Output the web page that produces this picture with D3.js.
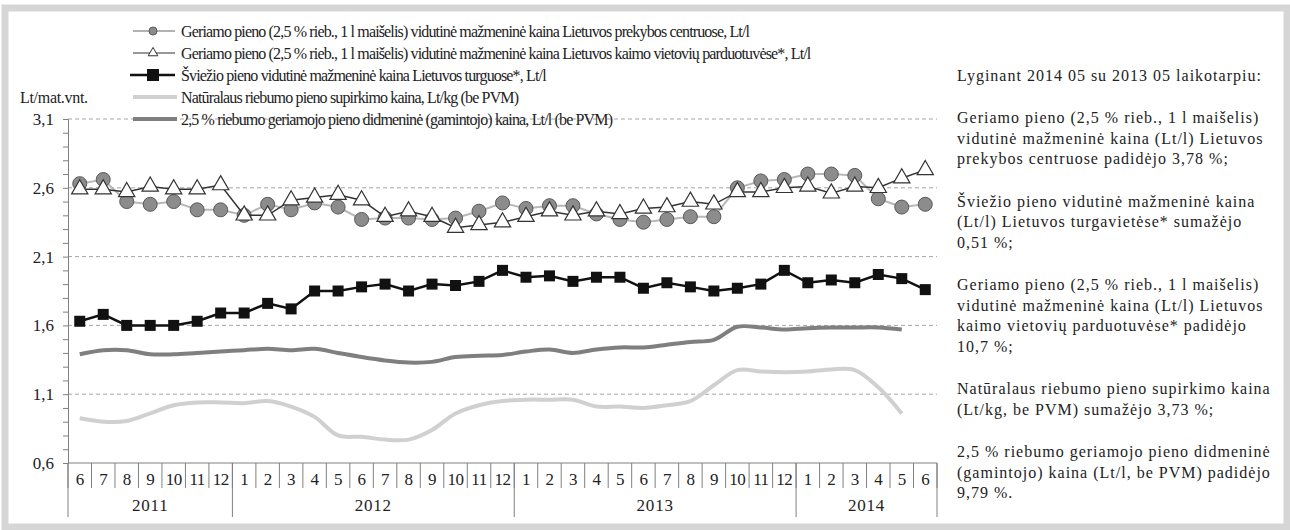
<!DOCTYPE html>
<html>
<head>
<meta charset="utf-8">
<script src="https://cdn.jsdelivr.net/npm/d3@7"></script>
<style>
  body { margin: 0; background: #fff; }
  svg { display: block; }
  text { font-family: "Liberation Serif", "Times New Roman", "DejaVu Serif", serif; }
</style>
</head>
<body>
<svg id="viz" width="1290" height="530"></svg>
<script>
const svg = d3.select("#viz");
const width = +svg.attr("width");
const height = +svg.attr("height");
const plot = { left: 68, right: 937, top: 119, bottom: 463 };

// months 2011-06 .. 2014-06
const months = ["6","7","8","9","10","11","12",
  "1","2","3","4","5","6","7","8","9","10","11","12",
  "1","2","3","4","5","6","7","8","9","10","11","12",
  "1","2","3","4","5","6"];
const years = [["2011", 7], ["2012", 12], ["2013", 12], ["2014", 6]];
const yTicks = [0.6, 1.1, 1.6, 2.1, 2.6, 3.1];

const retailShops = [2.63, 2.66, 2.50, 2.48, 2.50, 2.44, 2.44, 2.40, 2.48, 2.44, 2.49, 2.46, 2.37, 2.38, 2.38, 2.37, 2.38, 2.43, 2.49,
  2.45, 2.47, 2.47, 2.41, 2.37, 2.35, 2.37, 2.39, 2.39, 2.60, 2.65, 2.66, 2.70, 2.70, 2.69, 2.52, 2.46, 2.48];
const retailVillage = [2.59, 2.59, 2.57, 2.61, 2.59, 2.59, 2.62, 2.40, 2.40, 2.51, 2.53, 2.55, 2.51, 2.39, 2.43, 2.39, 2.31, 2.33, 2.35,
  2.39, 2.43, 2.40, 2.43, 2.41, 2.45, 2.46, 2.50, 2.48, 2.57, 2.57, 2.60, 2.61, 2.56, 2.61, 2.60, 2.67, 2.73];
const freshMarket = [1.63, 1.68, 1.60, 1.60, 1.60, 1.63, 1.69, 1.69, 1.76, 1.72, 1.85, 1.85, 1.88, 1.90, 1.85, 1.90, 1.89, 1.92, 2.00,
  1.95, 1.96, 1.92, 1.95, 1.95, 1.87, 1.91, 1.88, 1.85, 1.87, 1.90, 2.00, 1.91, 1.93, 1.91, 1.97, 1.94, 1.86];
const purchasePrice = [0.925, 0.90, 0.905, 0.96, 1.02, 1.04, 1.04, 1.035, 1.05, 1.01, 0.935, 0.80, 0.79, 0.77, 0.77, 0.84, 0.96, 1.02, 1.05,
  1.06, 1.06, 1.06, 1.01, 1.01, 1.00, 1.02, 1.05, 1.165, 1.275, 1.265, 1.26, 1.265, 1.28, 1.275, 1.15, 0.96];
const wholesale = [1.39, 1.42, 1.42, 1.39, 1.39, 1.40, 1.41, 1.42, 1.43, 1.42, 1.43, 1.40, 1.37, 1.345, 1.33, 1.335, 1.37, 1.38, 1.385,
  1.41, 1.425, 1.40, 1.425, 1.44, 1.44, 1.46, 1.48, 1.495, 1.59, 1.585, 1.57, 1.58, 1.585, 1.585, 1.585, 1.57];

const legendLabels = [
  "Geriamo pieno (2,5 % rieb., 1 l maišelis) vidutinė mažmeninė kaina Lietuvos prekybos centruose, Lt/l",
  "Geriamo pieno (2,5 % rieb., 1 l maišelis) vidutinė mažmeninė kaina Lietuvos kaimo vietovių parduotuvėse*, Lt/l",
  "Šviežio pieno vidutinė mažmeninė kaina Lietuvos turguose*, Lt/l",
  "Natūralaus riebumo pieno supirkimo kaina, Lt/kg (be PVM)",
  "2,5 % riebumo geriamojo pieno didmeninė (gamintojo) kaina, Lt/l (be PVM)"
];

const notes = [
  ["Lyginant 2014 05 su 2013 05 laikotarpiu:"],
  ["Geriamo pieno (2,5 % rieb., 1 l maišelis)", "vidutinė mažmeninė kaina (Lt/l) Lietuvos", "prekybos centruose padidėjo 3,78 %;"],
  ["Šviežio pieno vidutinė mažmeninė kaina", "(Lt/l) Lietuvos turgavietėse* sumažėjo", "0,51 %;"],
  ["Geriamo pieno (2,5 % rieb., 1 l maišelis)", "vidutinė mažmeninė kaina (Lt/l) Lietuvos", "kaimo vietovių parduotuvėse* padidėjo", "10,7 %;"],
  ["Natūralaus riebumo pieno supirkimo kaina", "(Lt/kg, be PVM) sumažėjo 3,73 %;"],
  ["2,5 % riebumo geriamojo pieno didmeninė", "(gamintojo) kaina (Lt/l, be PVM) padidėjo", "9,79 %."]
];

// frame
svg.append("rect")
  .attr("x", 5).attr("y", 8)
  .attr("width", width - 8).attr("height", height - 11)
  .attr("fill", "none").attr("stroke", "#d6d6d6").attr("stroke-width", 7);

const x = d3.scaleBand().domain(d3.range(months.length)).range([plot.left, plot.right]).padding(0);
const cx = i => x(i) + x.bandwidth() / 2;
const y = d3.scaleLinear().domain([0.6, 3.1]).range([plot.bottom, plot.top]);

// gridlines
svg.append("g")
  .selectAll("line")
  .data(yTicks.slice(1))
  .join("line")
  .attr("x1", plot.left).attr("x2", plot.right)
  .attr("y1", d => y(d)).attr("y2", d => y(d))
  .attr("stroke", "#a6a6a6").attr("stroke-dasharray", "4,3");

// y axis
const yAxis = svg.append("g")
  .attr("transform", `translate(${plot.left},0)`)
  .call(d3.axisLeft(y).tickValues(d3.range(6, 32).map(d => d / 10)).tickSize(5).tickFormat(""));
yAxis.select(".domain").attr("stroke", "#808080");
yAxis.selectAll(".tick line").attr("stroke", "#808080");

svg.append("g")
  .selectAll("text")
  .data(yTicks)
  .join("text")
  .attr("x", 54).attr("y", d => y(d))
  .attr("dy", "0.35em")
  .attr("text-anchor", "end")
  .attr("font-size", 17)
  .attr("fill", "#222")
  .text(d => d3.format(".1f")(d).replace(".", ","));

svg.append("text")
  .attr("x", 20).attr("y", 97).attr("dy", "0.35em")
  .attr("font-size", 16).attr("fill", "#222")
  .attr("letter-spacing", -0.3)
  .text("Lt/mat.vnt.");

// x axis
const xg = svg.append("g");
xg.append("line")
  .attr("x1", plot.left).attr("x2", plot.right)
  .attr("y1", plot.bottom).attr("y2", plot.bottom)
  .attr("stroke", "#808080");
xg.selectAll(".sep")
  .data(d3.range(months.length + 1))
  .join("line")
  .attr("x1", i => i < months.length ? x(i) : plot.right)
  .attr("x2", i => i < months.length ? x(i) : plot.right)
  .attr("y1", plot.bottom).attr("y2", plot.bottom + 25)
  .attr("stroke", "#808080");
xg.selectAll(".month")
  .data(months)
  .join("text")
  .attr("x", (d, i) => cx(i)).attr("y", plot.bottom + 16).attr("dy", "0.35em")
  .attr("text-anchor", "middle").attr("font-size", 17).attr("fill", "#222")
  .attr("letter-spacing", -0.5)
  .text(d => d);

let start = 0;
years.forEach(([label, n]) => {
  const x0 = x(start);
  const x1 = start + n < months.length ? x(start + n) : plot.right;
  xg.append("line")
    .attr("x1", x0).attr("x2", x0).attr("y1", plot.bottom).attr("y2", plot.bottom + 54)
    .attr("stroke", "#808080");
  xg.append("text")
    .attr("x", (x0 + x1) / 2).attr("y", plot.bottom + 42).attr("dy", "0.35em")
    .attr("text-anchor", "middle").attr("font-size", 17).attr("fill", "#222")
    .attr("letter-spacing", 0.8)
    .text(label);
  start += n;
});
xg.append("line")
  .attr("x1", plot.right).attr("x2", plot.right).attr("y1", plot.bottom).attr("y2", plot.bottom + 54)
  .attr("stroke", "#808080");

// series
const smooth = d3.line().x((d, i) => cx(i)).y(d => y(d)).curve(d3.curveCatmullRom.alpha(0.5));
const straight = d3.line().x((d, i) => cx(i)).y(d => y(d));

svg.append("path").datum(purchasePrice)
  .attr("fill", "none").attr("stroke", "#d0d0d0").attr("stroke-width", 4).attr("d", smooth);
svg.append("path").datum(wholesale)
  .attr("fill", "none").attr("stroke", "#7f7f7f").attr("stroke-width", 4).attr("d", smooth);

svg.append("path").datum(freshMarket)
  .attr("fill", "none").attr("stroke", "#111").attr("stroke-width", 2.5).attr("d", straight);
svg.append("g").selectAll("rect")
  .data(freshMarket)
  .join("rect")
  .attr("x", (d, i) => cx(i) - 5.5).attr("y", d => y(d) - 5.5)
  .attr("width", 11).attr("height", 11)
  .attr("fill", "#111");

svg.append("path").datum(retailShops)
  .attr("fill", "none").attr("stroke", "#b8b8b8").attr("stroke-width", 2).attr("d", straight);
svg.append("g").selectAll("circle")
  .data(retailShops)
  .join("circle")
  .attr("cx", (d, i) => cx(i)).attr("cy", d => y(d)).attr("r", 7)
  .attr("fill", "#8c8c8c").attr("stroke", "#595959").attr("stroke-width", 1);

const tri = d3.symbol().type(d3.symbolTriangle).size(115);
svg.append("path").datum(retailVillage)
  .attr("fill", "none").attr("stroke", "#333").attr("stroke-width", 1.5).attr("d", straight);
svg.append("g").selectAll("path")
  .data(retailVillage)
  .join("path")
  .attr("transform", (d, i) => `translate(${cx(i)},${y(d)})`)
  .attr("d", tri)
  .attr("fill", "#fff").attr("stroke", "#333").attr("stroke-width", 1.2);

// legend
const legend = svg.append("g").attr("transform", "translate(133,31)");
legendLabels.forEach((label, i) => {
  const g = legend.append("g").attr("transform", `translate(0,${i * 22})`);
  if (i === 0) {
    g.append("line").attr("x1", 0).attr("x2", 42).attr("stroke", "#999").attr("stroke-width", 1.5);
    g.append("circle").attr("cx", 20).attr("r", 4).attr("fill", "#8c8c8c").attr("stroke", "#595959");
  } else if (i === 1) {
    g.append("line").attr("x1", 0).attr("x2", 42).attr("stroke", "#333").attr("stroke-width", 1.2);
    g.append("path").attr("transform", "translate(20,0)").attr("d", d3.symbol().type(d3.symbolTriangle).size(40))
      .attr("fill", "#fff").attr("stroke", "#333");
  } else if (i === 2) {
    g.append("line").attr("x1", -3).attr("x2", 42).attr("stroke", "#111").attr("stroke-width", 2.5);
    g.append("rect").attr("x", 14).attr("y", -6).attr("width", 12).attr("height", 12).attr("fill", "#111");
  } else if (i === 3) {
    g.append("line").attr("x1", 0).attr("x2", 44).attr("stroke", "#d0d0d0").attr("stroke-width", 4);
  } else {
    g.append("line").attr("x1", 0).attr("x2", 44).attr("stroke", "#7f7f7f").attr("stroke-width", 4);
  }
  g.append("text")
    .attr("x", 48).attr("dy", "0.35em")
    .attr("font-size", 16).attr("fill", "#222")
    .attr("letter-spacing", -0.85)
    .text(label);
});

// notes on the right
const notesG = svg.append("g").attr("transform", "translate(957,75)");
let ny = 0;
notes.forEach(par => {
  par.forEach(line => {
    notesG.append("text")
      .attr("x", 0).attr("y", ny).attr("dy", "0.35em")
      .attr("font-size", 16).attr("fill", "#222")
      .attr("letter-spacing", 1)
      .text(line);
    ny += 20.5;
  });
  ny += 22;
});
</script>
</body>
</html>
